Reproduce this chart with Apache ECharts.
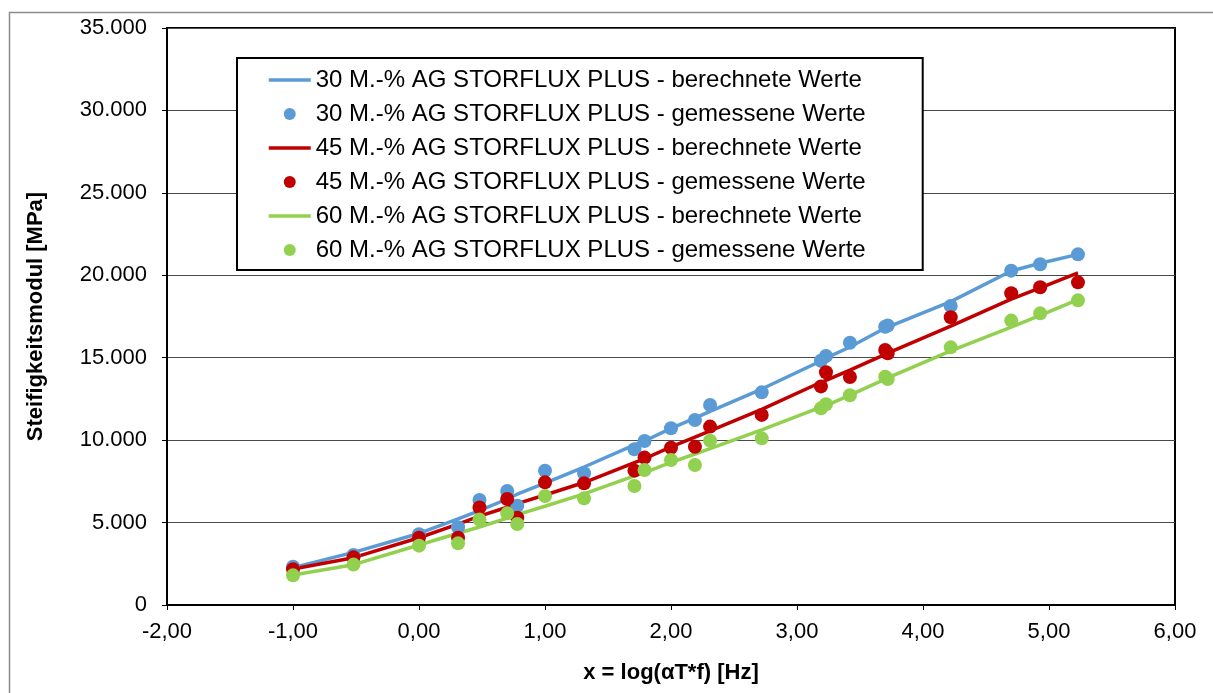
<!DOCTYPE html>
<html>
<head>
<meta charset="utf-8">
<style>
  html, body { margin: 0; padding: 0; background: #fff; }
  #chart { width: 1213px; height: 693px; }
</style>
<script src="https://cdn.jsdelivr.net/npm/echarts@6/dist/echarts.min.js"></script>
</head>
<body>
<div id="chart"></div>
<script>
// x = log(aT*f) for each test point
const logX = [-1.00, -0.52, 0.00, 0.31, 0.48, 0.70, 0.78, 1.00, 1.31, 1.71, 1.79, 2.00,
              2.19, 2.31, 2.72, 3.19, 3.23, 3.42, 3.70, 3.72, 4.22, 4.70, 4.93, 5.23];

// Stiffness modulus [MPa], model values
const calc30 = [2270, 3190, 4340, 5220, 5730, 6430, 6720, 7390, 8370, 9710, 9950, 10710,
                11330, 11740, 13100, 14800, 14980, 15650, 16800, 16860, 18400, 20260, 20730, 21270];
const calc45 = [2180, 2870, 4080, 4900, 5390, 5930, 6150, 6670, 7430, 8640, 8870, 9590,
                10180, 10560, 11870, 13510, 13620, 14250, 15200, 15280, 16920, 18550, 19230, 20140];
const calc60 = [1820, 2445, 3640, 4350, 4730, 5270, 5480, 5990, 6740, 7830, 8030, 8650,
                9160, 9490, 10620, 12000, 12100, 12730, 13700, 13780, 15410, 16860, 17570, 18530];

// Stiffness modulus [MPa], measured values
const meas30 = [2320, 3030, 4290, 4720, 6370, 6920, 6020, 8150, 7990, 9450, 9950, 10720,
                11220, 12130, 12900, 14820, 15100, 15910, 16880, 16950, 18140, 20280, 20670, 21270];
const meas45 = [2170, 2890, 4080, 4080, 5910, 6430, 5300, 7440, 7380, 8150, 8940, 9540,
                9600, 10820, 11530, 13260, 14120, 13830, 15470, 15270, 17450, 18910, 19270, 19570];
const meas60 = [1800, 2450, 3600, 3740, 5180, 5560, 4910, 6610, 6470, 7220, 8190, 8800,
                8490, 9970, 10110, 11930, 12180, 12720, 13850, 13710, 15630, 17250, 17690, 18480];

const names = [
  '30 M.-% AG STORFLUX PLUS - berechnete Werte',
  '30 M.-% AG STORFLUX PLUS - gemessene Werte',
  '45 M.-% AG STORFLUX PLUS - berechnete Werte',
  '45 M.-% AG STORFLUX PLUS - gemessene Werte',
  '60 M.-% AG STORFLUX PLUS - berechnete Werte',
  '60 M.-% AG STORFLUX PLUS - gemessene Werte'
];
const colors = ['#5B9BD5', '#C00000', '#92D050'];

const pairs = ys => logX.map((x, i) => [x, ys[i]]);
const FONT = 'Liberation Sans, Arial, sans-serif';

function lineSeries(name, ys, color) {
  return {
    name, type: 'line', data: pairs(ys), symbol: 'none', showSymbol: false,
    lineStyle: { color, width: 3.5 }, itemStyle: { color }, z: 3, animation: false
  };
}
function dotSeries(name, ys, color) {
  return {
    name, type: 'scatter', data: pairs(ys), symbol: 'circle', symbolSize: 14,
    itemStyle: { color, opacity: 1 }, z: 3, animation: false
  };
}

// legend: model curves show only their line, measurements only their dot
const legendData = names.map((n, i) => i % 2 === 0
  ? { name: n, itemStyle: { opacity: 0 }, lineStyle: { width: 3.5 } }
  : { name: n });

const chart = echarts.init(document.getElementById('chart'), null, { renderer: 'canvas' });
chart.setOption({
  backgroundColor: '#fff',
  animation: false,
  textStyle: { fontFamily: FONT, color: '#000' },
  graphic: [{
    type: 'rect', left: 7, top: 10, silent: true, z: -1,
    shape: { width: 1230, height: 700 },
    style: { fill: 'none', stroke: '#8c8c8c', lineWidth: 1.5 }
  }],
  grid: {
    left: 167, right: 38, top: 28, bottom: 88,
    show: true, borderColor: '#000', borderWidth: 2, backgroundColor: 'transparent'
  },
  legend: {
    orient: 'vertical', left: 237, top: 58,
    padding: [10, 57, 8, 30],
    itemWidth: 42, itemHeight: 12, itemGap: 10,
    backgroundColor: '#fff', borderColor: '#000', borderWidth: 2, borderRadius: 0,
    textStyle: { fontFamily: FONT, fontSize: 24, color: '#000', lineHeight: 24 },
    data: legendData
  },
  xAxis: {
    type: 'value', min: -2, max: 6, interval: 1,
    name: 'x = log(\u03b1T*f) [Hz]', nameLocation: 'middle', nameGap: 57,
    nameTextStyle: { fontFamily: FONT, fontSize: 22, fontWeight: 'bold', color: '#000' },
    axisLine: { onZero: false, lineStyle: { color: '#000', width: 2 } },
    axisTick: { show: true, inside: false, length: 5, lineStyle: { color: '#000', width: 1 } },
    axisLabel: {
      fontFamily: FONT, fontSize: 22, color: '#000', margin: 16,
      formatter: v => v.toFixed(2).replace('.', ',')
    },
    splitLine: { show: false }
  },
  yAxis: {
    type: 'value', min: 0, max: 35000, interval: 5000,
    name: 'Steifigkeitsmodul [MPa]', nameLocation: 'middle', nameGap: 120, nameRotate: 90,
    nameTextStyle: { fontFamily: FONT, fontSize: 22, fontWeight: 'bold', color: '#000' },
    axisLine: { show: true, onZero: false, lineStyle: { color: '#000', width: 2 } },
    axisTick: { show: true, inside: false, length: 5, lineStyle: { color: '#000', width: 1 } },
    axisLabel: {
      fontFamily: FONT, fontSize: 22, color: '#000', margin: 20,
      formatter: v => v === 0 ? '0' : String(v).replace(/\B(?=(\d{3})+(?!\d))/g, '.')
    },
    splitLine: { show: true, lineStyle: { color: '#4a4a4a', width: 1 } }
  },
  series: [
    lineSeries(names[0], calc30, colors[0]),
    dotSeries(names[1], meas30, colors[0]),
    lineSeries(names[2], calc45, colors[1]),
    dotSeries(names[3], meas45, colors[1]),
    lineSeries(names[4], calc60, colors[2]),
    dotSeries(names[5], meas60, colors[2])
  ]
});
</script>
</body>
</html>
